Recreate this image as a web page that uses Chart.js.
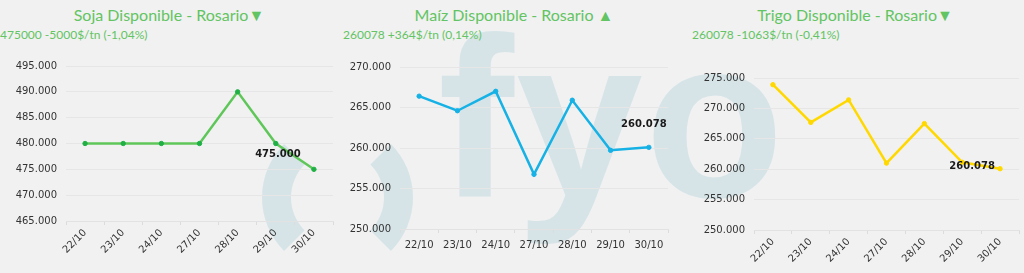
<!DOCTYPE html>
<html>
<head>
<meta charset="utf-8">
<script src="https://cdn.jsdelivr.net/npm/chart.js@4.4.0/dist/chart.umd.min.js"></script>
<style>
  html, body { margin:0; padding:0; background:#f1f1f1; }
  #wrap { position:relative; width:1024px; height:273px; overflow:hidden; background:#f1f1f1; }
  .wm { position:absolute; color:#d6e4e8; font-family:"Liberation Sans", Arial, sans-serif; font-weight:700; line-height:1; white-space:nowrap; }
  .ring { position:absolute; box-sizing:border-box; border-radius:50%; border-style:solid; border-color:transparent #d6e4e8; border-width:29px; }
  .title { position:absolute; top:5px; transform:translateX(-50%); font-family:Lato, sans-serif; font-size:16px; color:#62c462; white-space:nowrap; }
  .sub { position:absolute; top:27px; font-family:Lato, sans-serif; font-size:12px; color:#62c462; white-space:nowrap; }
  canvas { position:absolute; top:0; }
</style>
</head>
<body>
<div id="wrap">
  <div class="ring" style="left:262px; top:122px; width:151px; height:151px;"></div>
  <div class="wm" style="left:438px; top:4px; font-size:228px; letter-spacing:2px;">fyo</div>
  <div class="title" id="t1" style="left:169px;"></div>
  <div class="sub" id="s1" style="left:0px;"></div>
  <div class="title" id="t2" style="left:514px;"></div>
  <div class="sub" id="s2" style="left:343px;"></div>
  <div class="title" id="t3" style="left:855px;"></div>
  <div class="sub" id="s3" style="left:692px;"></div>
  <canvas id="c1" width="340" height="273" style="left:0px;"></canvas>
  <canvas id="c2" width="340" height="273" style="left:340px;"></canvas>
  <canvas id="c3" width="344" height="273" style="left:680px;"></canvas>
</div>
<script>
// ---- data ----
const categories = ['22/10', '23/10', '24/10', '27/10', '28/10', '29/10', '30/10'];
const sojaValues  = [480000, 480000, 480000, 480000, 490000, 480000, 475000];
const maizValues  = [266400, 264600, 267000, 256750, 265900, 259714, 260078];
const trigoValues = [273900, 267700, 271400, 261000, 267500, 261141, 260078];

const sojaTicks  = [465000, 470000, 475000, 480000, 485000, 490000, 495000];
const maizTicks  = [250000, 255000, 260000, 265000, 270000];
const trigoTicks = [250000, 255000, 260000, 265000, 270000, 275000];

const titles    = ['Soja Disponible - Rosario\u25BC', 'Ma\u00EDz Disponible - Rosario \u25B2', 'Trigo Disponible - Rosario\u25BC'];
const subtitles = ['475000 -5000$/tn (-1,04%)', '260078 +364$/tn (0,14%)', '260078 -1063$/tn (-0,41%)'];

titles.forEach((t, i) => { document.getElementById('t' + (i + 1)).textContent = t; });
subtitles.forEach((t, i) => { document.getElementById('s' + (i + 1)).textContent = t; });

function fmt(v) {
  return Math.round(v).toString().replace(/\B(?=(\d{3})+(?!\d))/g, '.');
}

const lastLabel = {
  id: 'lastLabel',
  afterDatasetsDraw(chart, args, opts) {
    const meta = chart.getDatasetMeta(0);
    const pts = meta.data;
    const p = pts[pts.length - 1];
    const v = chart.data.datasets[0].data[pts.length - 1];
    const ctx = chart.ctx;
    ctx.save();
    ctx.font = 'bold 10px "DejaVu Sans"';
    ctx.fillStyle = '#1a1a1a';
    ctx.textAlign = 'center';
    ctx.textBaseline = 'middle';
    ctx.fillText(fmt(v), p.x + opts.dx, p.y + opts.dy);
    ctx.restore();
  }
};

function makeChart(id, values, ticks, lineColor, pointColor, c) {
  new Chart(document.getElementById(id), {
    type: 'line',
    data: {
      labels: categories,
      datasets: [{
        data: values,
        borderColor: lineColor,
        backgroundColor: pointColor,
        pointBackgroundColor: pointColor,
        pointBorderColor: pointColor,
        borderWidth: 2.5,
        pointRadius: 2.2,
        pointBorderWidth: 1,
        tension: 0,
        fill: false
      }]
    },
    options: {
      responsive: false,
      animation: false,
      layout: { padding: { top: c.padTop, right: c.padRight, left: 0, bottom: 0 } },
      plugins: {
        legend: { display: false },
        tooltip: { enabled: false },
        lastLabel: { dx: c.dx, dy: c.dy }
      },
      scales: {
        x: {
          offset: true,
          afterFit: s => { s.height = c.xHeight; },
          grid: { offset: true, drawOnChartArea: false, drawTicks: true, tickLength: 4, color: '#dcdcdc' },
          border: { color: '#e2e2e2' },
          ticks: {
            color: '#333',
            font: { family: 'DejaVu Sans', size: 10 },
            minRotation: c.rot, maxRotation: c.rot,
            padding: c.rot ? 2 : 6,
            autoSkip: false
          }
        },
        y: {
          min: ticks[0],
          max: ticks[ticks.length - 1],
          afterFit: s => { s.width = c.yWidth; },
          afterBuildTicks: s => { s.ticks = ticks.map(v => ({ value: v })); },
          grid: { drawTicks: false, color: '#e6e6e6' },
          border: { display: false },
          ticks: {
            color: '#333',
            font: { family: 'DejaVu Sans', size: 10 },
            padding: 9,
            callback: v => fmt(v)
          }
        }
      }
    },
    plugins: [lastLabel]
  });
}

makeChart('c1', sojaValues, sojaTicks, '#5fc75a', '#1fb045',
  { padTop: 66, padRight: 7, xHeight: 52, yWidth: 66, rot: 45, dx: -36, dy: -15 });
makeChart('c2', maizValues, maizTicks, '#16b1e5', '#16b1e5',
  { padTop: 67, padRight: 12, xHeight: 44, yWidth: 60, rot: 0, dx: -5, dy: -23 });
makeChart('c3', trigoValues, trigoTicks, '#ffd800', '#ffd800',
  { padTop: 78, padRight: 4, xHeight: 43, yWidth: 74, rot: 45, dx: -28, dy: -2 });
</script>
</body>
</html>
